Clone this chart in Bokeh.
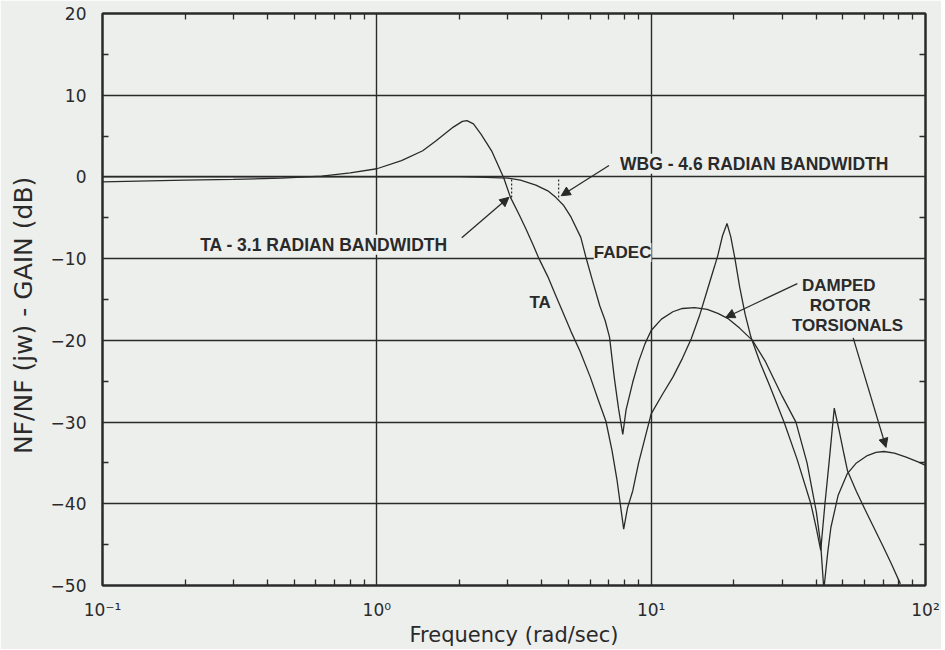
from bokeh.plotting import figure
from bokeh.models import (LinearAxis, LogAxis, FixedTicker, Label, Arrow,
                          NormalHead, Range1d, ColumnDataSource)
from bokeh.embed import file_html
from bokeh.resources import INLINE

# ---------------- data ----------------
ta_freq = [0.1, 0.2, 0.3, 0.45, 0.63, 0.8, 1.0, 1.23, 1.47, 1.64, 1.9, 2.05, 2.13,
           2.25, 2.4, 2.62, 2.9, 3.07, 3.3, 3.5, 3.7, 3.9, 4.2, 4.5, 4.8, 5.1, 5.5,
           6.0, 6.4, 6.84, 7.2, 7.5, 7.75, 7.94, 8.2, 8.57, 9.0, 10, 11, 12, 13, 14,
           15, 16, 17, 17.5, 18.2, 18.9, 19.5, 20.2, 21, 22, 23.1, 25, 27, 30.5, 34,
           38.2, 40, 41.5, 43, 44.5, 46.5, 48.4, 50.5, 52, 56, 60, 65, 70, 75, 81]
ta_gain = [-0.6, -0.4, -0.3, -0.15, 0.1, 0.5, 1.0, 2.0, 3.2, 4.4, 6.1, 6.8, 6.9,
           6.5, 5.2, 3.2, -0.1, -2.5, -4.6, -6.4, -8.2, -10.0, -12.2, -14.6, -16.8,
           -18.9, -21.3, -24.5, -27.2, -29.9, -33.5, -37.0, -40.5, -43.1, -40.5,
           -38.4, -35.0, -29.0, -26.6, -24.5, -22.2, -19.8, -17.0, -13.9, -11.0,
           -9.6, -7.2, -5.7, -7.3, -10.0, -13.4, -16.8, -19.6, -22.8, -25.5, -30.0,
           -34.5, -40.0, -43.0, -45.7, -40.0, -35.0, -28.3, -31.0, -34.0, -36.0,
           -38.5, -40.6, -43.0, -45.2, -47.3, -49.8]

fadec_freq = [0.1, 0.3, 0.6, 1.0, 1.5, 2.0, 2.5, 3.0, 3.34, 3.8, 4.2, 4.49, 4.8,
              5.1, 5.54, 5.78, 6.1, 6.5, 6.8, 7.05, 7.34, 7.6, 7.88, 8.1, 8.57, 9.0,
              9.5, 10, 10.9, 12, 13, 14.4, 16, 17.5, 19, 21, 23.4, 26, 30, 33.7, 37,
              40, 41.5, 42.6, 44, 45.2, 48, 51.9, 56, 61.4, 66, 70.6, 77, 85, 94.4, 100]
fadec_gain = [0.0, 0.0, 0.0, 0.0, 0.0, 0.0, -0.05, -0.15, -0.4, -1.0, -1.7, -2.5,
              -3.5, -4.9, -7.4, -9.8, -12.6, -15.8, -17.6, -19.6, -24.6, -28.3,
              -31.5, -28.5, -25.1, -22.6, -20.4, -18.8, -17.4, -16.5, -16.1, -16.0,
              -16.2, -16.7, -17.3, -18.5, -20.0, -22.5, -26.8, -30.0, -35.0, -41.0,
              -45.0, -50.5, -46.0, -42.9, -39.0, -36.3, -35.0, -34.1, -33.7, -33.6,
              -33.8, -34.3, -34.9, -35.3]

x_major = [0.1, 1, 10, 100]
x_major_labels = ["10\u207b\u00b9", "10\u2070", "10\u00b9", "10\u00b2"]
x_minor = [0.2, 0.3, 0.4, 0.5, 0.6, 0.7, 0.8, 0.9,
           2, 3, 4, 5, 6, 7, 8, 9,
           20, 30, 40, 50, 60, 70, 80, 90]
x_grid = [1, 10]
y_major = [-50, -40, -30, -20, -10, 0, 10, 20]
y_major_labels = ["\u221250", "\u221240", "\u221230", "\u221220", "\u221210", "0", "10", "20"]
y_minor = [-45, -35, -25, -15, -5, 5, 15]
y_grid = [-40, -30, -20, -10, 0, 10]

bw_freq = [3.1, 4.6]
bw_top = [-0.3, -0.3]
bw_bottom = [-2.6, -2.8]

note_text = ["TA - 3.1 RADIAN BANDWIDTH", "WBG - 4.6 RADIAN BANDWIDTH", "FADEC"]
note_x = [0.227, 7.7, 6.18]
note_y = [-8.3, 1.6, -9.25]
note_size = ["17.5px", "17.5px", "17px"]

ta_label_text = "TA"
ta_label_x = 3.6
ta_label_y = -15.4

damped_text = ["DAMPED", "ROTOR", "TORSIONALS"]
damped_x = [48.3, 48.9, 52.0]
damped_y = [-13.3, -15.7, -18.2]

arrow_x0 = [2.04, 7.02, 34.1, 54.5]
arrow_y0 = [-7.45, 1.4, -13.05, -19.7]
arrow_x1 = [3.03, 4.7, 18.7, 71.8]
arrow_y1 = [-2.5, -2.3, -17.2, -33.1]

# ---------------- styling ----------------
BG = "#edefed"
INK = "#2a2a2a"
AX_FONT = "DejaVu Sans"
NOTE_FONT = "Liberation Sans"

p = figure(x_axis_type="log", x_range=Range1d(0.1, 100), y_range=Range1d(-50, 20),
           frame_width=823, frame_height=572,
           min_border_left=102, min_border_right=16, min_border_top=13, min_border_bottom=0,
           output_backend="svg", toolbar_location=None,
           background_fill_color=BG, border_fill_color=BG)

p.outline_line_color = INK
p.outline_line_width = 2

p.xgrid.ticker = FixedTicker(ticks=x_grid)
p.ygrid.ticker = FixedTicker(ticks=y_grid)
for g in (p.xgrid[0], p.ygrid[0]):
    g.grid_line_color = INK
    g.grid_line_width = 1.4

def style_axis(ax):
    ax.major_tick_in = 0
    ax.major_tick_out = 0
    ax.minor_tick_in = 6
    ax.minor_tick_out = 0
    ax.minor_tick_line_color = INK
    ax.minor_tick_line_width = 1.3
    ax.axis_line_color = INK
    ax.axis_line_width = 2
    ax.major_label_text_color = INK
    ax.major_label_text_font = AX_FONT
    ax.major_label_text_font_size = "17px"
    ax.axis_label_text_color = INK
    ax.axis_label_text_font = AX_FONT
    ax.axis_label_text_font_style = "normal"

xa = p.xaxis[0]
xa.ticker = FixedTicker(ticks=x_major, minor_ticks=x_minor)
style_axis(xa)
xa.major_label_overrides = dict(zip(x_major, x_major_labels))
xa.major_label_standoff = 14
xa.axis_label = "Frequency (rad/sec)"
xa.axis_label_text_font_size = "21px"
xa.axis_label_standoff = 0

ya = p.yaxis[0]
ya.ticker = FixedTicker(ticks=y_major, minor_ticks=y_minor)
style_axis(ya)
ya.major_label_overrides = dict(zip(y_major, y_major_labels))
ya.major_label_standoff = 16
ya.axis_label = "NF/NF (jw) - GAIN (dB)" + "\u00a0" * 4
ya.axis_label_text_font_size = "25px"
ya.axis_label_standoff = 10

ra = LinearAxis(ticker=FixedTicker(ticks=y_major, minor_ticks=y_minor))
style_axis(ra)
ra.major_label_text_font_size = "1px"
ra.major_label_text_alpha = 0
ra.major_label_standoff = 0
p.add_layout(ra, "right")

ta_ax = LogAxis(ticker=FixedTicker(ticks=x_major, minor_ticks=x_minor))
style_axis(ta_ax)
ta_ax.major_label_text_font_size = "1px"
ta_ax.major_label_text_alpha = 0
ta_ax.major_label_standoff = 0
p.add_layout(ta_ax, "above")

# curves
p.line(ta_freq, ta_gain, line_color=INK, line_width=1.3)
p.line(fadec_freq, fadec_gain, line_color=INK, line_width=1.3)

# bandwidth markers
p.segment(x0=bw_freq, y0=bw_top, x1=bw_freq, y1=bw_bottom,
          line_color=INK, line_width=1.2, line_dash="2 2")

# annotations
for t, x, y, s in zip(note_text, note_x, note_y, note_size):
    p.add_layout(Label(x=x, y=y, text=t, text_font=NOTE_FONT, text_font_style="bold",
                       text_font_size=s, text_color=INK, text_align="left",
                       text_baseline="middle", background_fill_color=BG))

p.add_layout(Label(x=ta_label_x, y=ta_label_y, text=ta_label_text, text_font=NOTE_FONT,
                   text_font_style="bold", text_font_size="17px", text_color=INK,
                   text_align="left", text_baseline="middle"))

for t, x, y in zip(damped_text, damped_x, damped_y):
    p.add_layout(Label(x=x, y=y, text=t, text_font=NOTE_FONT, text_font_style="bold",
                       text_font_size="17px", text_color=INK, text_align="center",
                       text_baseline="middle"))

arrow_src = ColumnDataSource(dict(x0=arrow_x0, y0=arrow_y0, x1=arrow_x1, y1=arrow_y1))
p.add_layout(Arrow(end=NormalHead(size=9, fill_color=INK, line_color=INK, line_width=1),
                   x_start="x0", y_start="y0", x_end="x1", y_end="y1",
                   source=arrow_src, line_color=INK, line_width=1.3))

open("out.html", "w").write(file_html(p, INLINE))
